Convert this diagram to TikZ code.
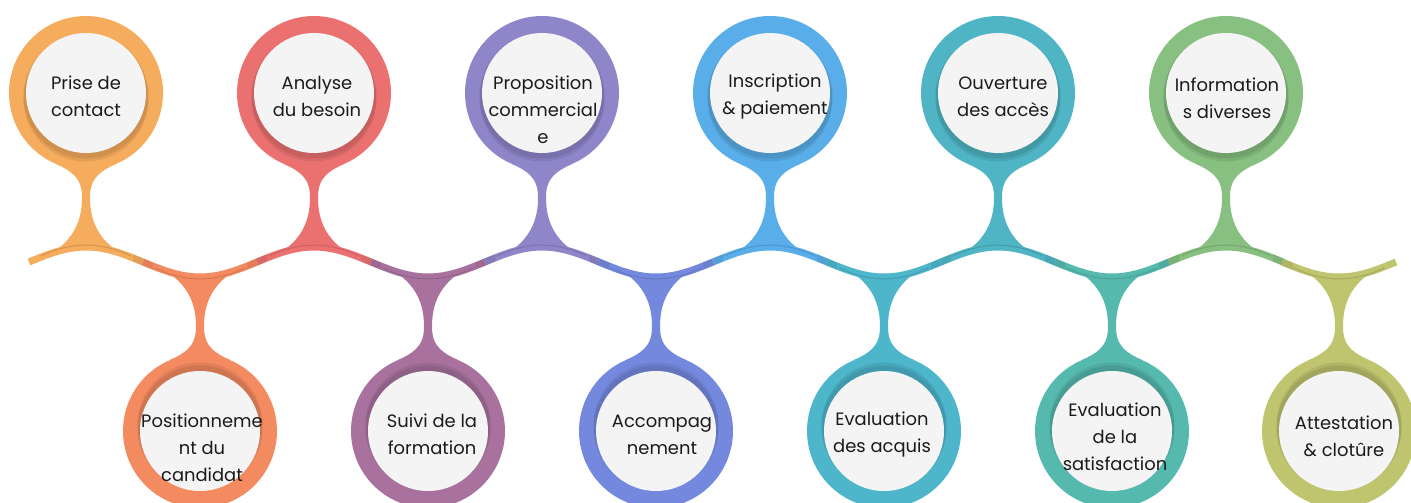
\documentclass[tikz,border=0pt]{standalone}
\usepackage{fontspec}
\setmainfont{Poppins}

\definecolor{cPrise}{HTML}{F5AC5C}
\definecolor{cPosition}{HTML}{F48A60}
\definecolor{cAnalyse}{HTML}{EB7171}
\definecolor{cSuivi}{HTML}{A9729E}
\definecolor{cPropo}{HTML}{8F85C9}
\definecolor{cAccomp}{HTML}{7489DE}
\definecolor{cInscr}{HTML}{59ADE9}
\definecolor{cAcquis}{HTML}{4DB6CB}
\definecolor{cOuvert}{HTML}{4FB4C4}
\definecolor{cSatisf}{HTML}{56B9AE}
\definecolor{cInfo}{HTML}{87C080}
\definecolor{cAttest}{HTML}{BFC46E}
\definecolor{discgray}{HTML}{F4F4F4}
\definecolor{inktext}{HTML}{1A1A1A}

\begin{document}
\begin{tikzpicture}[
		x=0.02cm, y=-0.02cm,
		font=\fontsize{10.2}{15.4}\selectfont,
		ring/.style={circle, fill=#1, minimum size=3.08cm, inner sep=0pt},
		disc/.style={circle, fill=discgray, minimum size=2.4cm, inner sep=0pt},
		shade/.style={circle, fill=black, opacity=0.08, minimum size=2.5cm, inner sep=0pt},
		wave/.style={draw=#1, line width=0.14cm},
		crease/.style={draw=black, opacity=0.13, line width=0.6pt},
		steptext/.style={align=center, text=inktext}
		]
		
		% ---- Frame of the picture ----
		\useasboundingbox (0,0) rectangle (1411,503);
		
		% ---- Steps: wave piece, stem, ring, disc, text ----
		\foreach \i/\cx/\sd/\col/\tx/\ty/\txt in {
				1/86/1/cPrise/86/96.5/{Prise de\\contact},
				2/200/-1/cPosition/202/448/{Positionneme\\nt du\\candidat},
				3/314/1/cAnalyse/317/96.5/{Analyse\\du besoin},
				4/428/-1/cSuivi/432/434.5/{Suivi de la\\formation},
				5/542/1/cPropo/543/110/{Proposition\\commercial\\e},
				6/656/-1/cAccomp/662/434.5/{Accompag\\nement},
				7/770/1/cInscr/775/96.5/{Inscription\\\& paiement},
				8/884/-1/cAcquis/882/434.5/{Evaluation\\des acquis},
				9/998/1/cOuvert/1003/96.5/{Ouverture\\des accès},
				10/1112/-1/cSatisf/1115/437/{Evaluation\\de la\\satisfaction},
				11/1226/1/cInfo/1227/98.5/{Information\\s diverses},
				12/1339/-1/cAttest/1344/436.5/{Attestation\\\& clotûre}} {
			\begin{scope}[shift={(\cx,262)}, yscale=\sd]
				% piece of the wave
				\draw[wave=\col] (-57,0) sin (0,-15) cos (57,0);
				% stem
				\fill[\col] (-30,-98) .. controls (-7,-88) and (-4,-78) .. (-4,-64)
				.. controls (-4,-42) and (-12,-22) .. (-36,-8)
				.. controls (-15,-16) and (15,-16) .. (36,-8)
				.. controls (12,-22) and (4,-42) .. (4,-64)
				.. controls (4,-78) and (7,-88) .. (30,-98) -- cycle;
				\draw[crease] (-45,-6) .. controls (-15,-20.5) and (15,-20.5) .. (45,-6);
				% ring, shadow and disc
				\node[ring=\col] (ring\i) at (0,-169) {};
				\node[shade] (shA\i) at (0,-166) {};
				\node[shade] (shB\i) at (0,-163) {};
				\node[disc] (disc\i) at (0,-169) {};
			\end{scope}
			\node[steptext] (txt\i) at (\tx,\ty) {\txt};
		}
		
		% ---- Soft blends where two wave pieces meet ----
		\foreach \jx/\ca/\cb/\s in {
				143/cPrise/cPosition/1, 257/cPosition/cAnalyse/-1,
				371/cAnalyse/cSuivi/1, 485/cSuivi/cPropo/-1,
				599/cPropo/cAccomp/1, 713/cAccomp/cInscr/-1,
				827/cInscr/cAcquis/1, 941/cAcquis/cOuvert/-1,
				1055/cOuvert/cSatisf/1, 1169/cSatisf/cInfo/-1,
				1283/cInfo/cAttest/1} {
			\shade[left color=\ca, right color=\cb]
			(\jx-10, 262-\s*4.13-3.6) -- (\jx+10, 262+\s*4.13-3.6)
			-- (\jx+10, 262+\s*4.13+3.6) -- (\jx-10, 262-\s*4.13+3.6) -- cycle;
		}
	\end{tikzpicture}
\end{document}
